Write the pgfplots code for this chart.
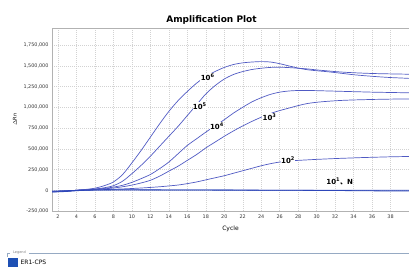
\documentclass[border=0pt]{standalone}
\usepackage{fontspec}
\setmainfont{DejaVu Sans}
\newfontfamily\cjk{Noto Sans CJK SC}
\usepackage{pgfplots}
\pgfplotsset{compat=1.18}
\definecolor{cb}{RGB}{80,90,195}
\definecolor{fb}{RGB}{45,70,185}
\definecolor{gridc}{RGB}{210,210,210}
\definecolor{legline}{RGB}{150,170,195}
\definecolor{legsq}{RGB}{30,80,180}
\begin{document}
\begin{tikzpicture}[x=1pt,y=1pt]
\useasboundingbox (0,0) rectangle (409,275);
\begin{axis}[
  at={(52pt,64pt)}, anchor=south west,
  scale only axis, width=357pt, height=183pt,
  xmin=1.35, xmax=40, ymin=-250000, ymax=1955000,
  xtick={2,4,...,38}, ytick={-250000,0,250000,500000,750000,1000000,1250000,1500000,1750000},
  extra x ticks={40}, extra x tick labels={},
  extra x tick style={grid=major},
  scaled y ticks=false,
  /pgf/number format/assume math mode=true,
  yticklabel style={/pgf/number format/.cd, fixed, 1000 sep={,}},
  ticklabel style={font=\fontsize{4.9}{5}\selectfont, text=black!80},
  major tick length=0pt,
  xmajorgrids, ymajorgrids,
  grid style={gridc, dash pattern=on 1pt off 1pt, line width=0.4pt},
  axis line style={gray!60, line width=0.6pt},
  xlabel={Cycle}, ylabel={$\Delta$Rn},
  xlabel style={font=\fontsize{6}{7}\selectfont, yshift=-1pt},
  ylabel style={font=\fontsize{5}{6}\selectfont},
  clip=true,
  curve/.style={cb, line width=0.7pt, mark=none, smooth},
  flat/.style={fb, line width=0.8pt, mark=none, smooth},
]
% 10^6
\addplot[curve] coordinates {(1,-15000)(2,-12000)(3,-8000)(4,0)(5,10000)(6,25000)(7,55000)(8,100000)(9,190000)(10,330000)(11,480000)(12,640000)(13,800000)(14,950000)(15,1080000)(16,1190000)(17,1290000)(18,1370000)(19,1430000)(20,1480000)(21,1515000)(22,1535000)(23,1545000)(24,1550000)(25,1545000)(26,1525000)(27,1498000)(28,1472000)(29,1452000)(30,1440000)(31,1430000)(32,1418000)(33,1405000)(34,1392000)(35,1382000)(36,1373000)(37,1365000)(38,1358000)(39,1353000)(40,1348000)};
% 10^5
\addplot[curve] coordinates {(1,-20000)(2,-15000)(3,-8000)(4,0)(5,8000)(6,15000)(7,30000)(8,55000)(9,110000)(10,200000)(11,300000)(12,410000)(13,530000)(14,650000)(15,770000)(16,900000)(17,1030000)(18,1160000)(19,1260000)(20,1340000)(21,1395000)(22,1430000)(23,1455000)(24,1470000)(25,1480000)(26,1482000)(27,1478000)(28,1470000)(29,1462000)(30,1450000)(31,1440000)(32,1430000)(33,1422000)(34,1416000)(35,1411000)(36,1407000)(37,1404000)(38,1402000)(39,1400000)(40,1398000)};
% 10^4
\addplot[curve] coordinates {(1,-18000)(2,-14000)(3,-8000)(4,0)(5,6000)(6,12000)(7,22000)(8,38000)(9,60000)(10,95000)(11,140000)(12,190000)(13,260000)(14,340000)(15,440000)(16,540000)(17,620000)(18,700000)(19,775000)(20,850000)(21,930000)(22,1000000)(23,1065000)(24,1115000)(25,1155000)(26,1182000)(27,1196000)(28,1202000)(29,1203000)(30,1200000)(31,1197000)(32,1194000)(33,1191000)(34,1188000)(35,1185000)(36,1182000)(37,1180000)(38,1178000)(39,1176000)(40,1175000)};
% 10^3
\addplot[curve] coordinates {(1,-18000)(2,-14000)(3,-8000)(4,0)(5,5000)(6,10000)(7,17000)(8,27000)(9,42000)(10,62000)(11,88000)(12,120000)(13,170000)(14,230000)(15,290000)(16,360000)(17,430000)(18,510000)(19,580000)(20,650000)(21,715000)(22,775000)(23,830000)(24,880000)(25,925000)(26,960000)(27,990000)(28,1020000)(29,1045000)(30,1060000)(31,1070000)(32,1078000)(33,1084000)(34,1088000)(35,1091000)(36,1094000)(37,1096000)(38,1098000)(39,1099000)(40,1100000)};
% 10^2
\addplot[curve] coordinates {(1,-20000)(2,-16000)(3,-10000)(4,-3000)(5,2000)(6,5000)(7,8000)(8,12000)(9,16000)(10,21000)(11,27000)(12,34000)(13,42000)(14,52000)(15,63000)(16,80000)(17,100000)(18,125000)(19,150000)(20,175000)(21,205000)(22,235000)(23,265000)(24,295000)(25,320000)(26,340000)(27,352000)(28,360000)(29,366000)(30,372000)(31,377000)(32,382000)(33,386000)(34,390000)(35,394000)(36,397000)(37,400000)(38,403000)(39,405000)(40,407000)};
% 10^1
\addplot[flat] coordinates {(1,-22000)(2,-19000)(3,-14000)(4,-6000)(5,0)(6,3000)(8,5000)(10,5000)(14,4000)(18,3000)(22,2000)(26,0)(30,-2000)(34,-5000)(37,-8000)(40,-10000)};
% N
\addplot[flat] coordinates {(1,-10000)(2,-8000)(3,-5000)(4,-2000)(5,0)(6,2000)(8,3000)(10,3000)(14,3000)(18,2000)(22,1000)(26,1000)(30,0)(34,0)(37,0)(40,0)};
\begin{scope}[every node/.style={font=\fontsize{7}{8}\selectfont\bfseries, text=black, fill=white, inner sep=0.4pt}]
\node at (axis cs:18.2,1361000) {10\textsuperscript{6}};
\node at (axis cs:17.35,1012000) {10\textsuperscript{5}};
\node at (axis cs:19.2,771000) {10\textsuperscript{4}};
\node at (axis cs:24.9,880000) {10\textsuperscript{3}};
\node at (axis cs:26.9,361000) {10\textsuperscript{2}};
\node[fill=none] at (axis cs:32.5,108000) {10\textsuperscript{1}{\cjk 、}N};
\end{scope}
\end{axis}
\node[font=\fontsize{9}{10}\selectfont\bfseries] at (211.5,255) {Amplification Plot};
% legend panel
\draw[legline, line width=0.6pt] (7,18) -- (7,22) -- (10,22);
\draw[legline, line width=0.6pt] (29,22) -- (409,22);
\node[font=\fontsize{3.5}{4}\selectfont, text=gray, inner sep=0pt] at (19.5,22.5) {Legend};
\fill[legsq] (8,8) rectangle (18,17);
\node[font=\fontsize{6}{7}\selectfont, anchor=west, inner sep=0pt] at (20.5,12.5) {ER1-CPS};
\end{tikzpicture}
\end{document}
